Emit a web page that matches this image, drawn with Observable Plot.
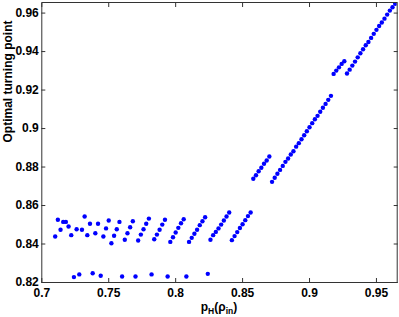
<!DOCTYPE html>
<html>
<head>
<meta charset="utf-8">
<script src="https://cdn.jsdelivr.net/npm/d3@7"></script>
<script src="https://cdn.jsdelivr.net/npm/@observablehq/plot@0.6"></script>
<style>
  html, body { margin: 0; padding: 0; background: #fff; }
</style>
</head>
<body>
<div id="chart"></div>
<script>
const xTicks = [0.7, 0.75, 0.8, 0.85, 0.9, 0.95];
const xTickLabels = ["0.7", "0.75", "0.8", "0.85", "0.9", "0.95"];
const yTicks = [0.82, 0.84, 0.86, 0.88, 0.9, 0.92, 0.94, 0.96];
const yTickLabels = ["0.82", "0.84", "0.86", "0.88", "0.9", "0.92", "0.94", "0.96"];
const yAxisLabel = "Optimal turning point";

const pValues = [
  0.710, 0.712, 0.714, 0.716, 0.718, 0.720, 0.722, 0.724, 0.726, 0.728,
  0.730, 0.732, 0.734, 0.736, 0.738, 0.740, 0.742, 0.744, 0.746, 0.748,
  0.750, 0.752, 0.754, 0.756, 0.758, 0.760, 0.762, 0.764, 0.766, 0.768,
  0.770, 0.772, 0.774, 0.776, 0.778, 0.780, 0.782, 0.784, 0.786, 0.788,
  0.790, 0.792, 0.794, 0.796, 0.798, 0.800, 0.802, 0.804, 0.806, 0.808,
  0.810, 0.812, 0.814, 0.816, 0.818, 0.820, 0.822, 0.824, 0.826, 0.828,
  0.830, 0.832, 0.834, 0.836, 0.838, 0.840, 0.842, 0.844, 0.846, 0.848,
  0.850, 0.852, 0.854, 0.856, 0.858, 0.860, 0.862, 0.864, 0.866, 0.868,
  0.870, 0.872, 0.874, 0.876, 0.878, 0.880, 0.882, 0.884, 0.886, 0.888,
  0.890, 0.892, 0.894, 0.896, 0.898, 0.900, 0.902, 0.904, 0.906, 0.908,
  0.910, 0.912, 0.914, 0.916, 0.918, 0.920, 0.922, 0.924, 0.926, 0.928,
  0.930, 0.932, 0.934, 0.936, 0.938, 0.940, 0.942, 0.944, 0.946, 0.948,
  0.950, 0.952, 0.954, 0.956, 0.958, 0.960, 0.962, 0.964
];

const turningPoints = [
  0.8439, 0.8526, 0.8474, 0.8515, 0.8515, 0.8491, 0.8446, 0.8228, 0.8477, 0.8242,
  0.8474, 0.8543, 0.8446, 0.8505, 0.8248, 0.8456, 0.8505, 0.8235, 0.8439, 0.8481,
  0.8522, 0.8404, 0.8443, 0.8477, 0.8515, 0.8231, 0.8422, 0.8456, 0.8487, 0.8518,
  0.8231, 0.8418, 0.8449, 0.8477, 0.8505, 0.8532, 0.8242, 0.8425, 0.8449, 0.8474,
  0.8501, 0.8526, 0.8231, 0.8411, 0.8435, 0.8460, 0.8484, 0.8508, 0.8529, 0.8231,
  0.8411, 0.8432, 0.8453, 0.8474, 0.8498, 0.8518, 0.8539, 0.8245, 0.8422, 0.8446,
  0.8463, 0.8481, 0.8501, 0.8522, 0.8543, 0.8564, 0.8420, 0.8441, 0.8462, 0.8483,
  0.8503, 0.8524, 0.8545, 0.8564, 0.8739, 0.8757, 0.8778, 0.8796, 0.8817, 0.8834,
  0.8855, 0.8723, 0.8744, 0.8765, 0.8785, 0.8806, 0.8827, 0.8844, 0.8865, 0.8882,
  0.8906, 0.8924, 0.8944, 0.8965, 0.8986, 0.9007, 0.9028, 0.9048, 0.9066, 0.9087,
  0.9108, 0.9128, 0.9149, 0.9170, 0.9284, 0.9301, 0.9318, 0.9336, 0.9350, 0.9286,
  0.9306, 0.9327, 0.9348, 0.9370, 0.9391, 0.9412, 0.9433, 0.9450, 0.9471, 0.9492,
  0.9513, 0.9533, 0.9551, 0.9571, 0.9592, 0.9613, 0.9630, 0.9648
];

const data = pValues.map((p, i) => ({p, t: turningPoints[i]}));

const ML = 41.3, MR = 2.3, MT = 2, MB = 35;
const W = 399, H = 317;

const chart = Plot.plot({
  width: W,
  height: H,
  marginLeft: ML,
  marginRight: MR,
  marginTop: MT,
  marginBottom: MB,
  style: {fontFamily: "'Liberation Sans', Arial, Helvetica, sans-serif", fontSize: "12px", fontWeight: "bold", background: "#fff", color: "#000"},
  x: {domain: [0.7, 0.9655], label: null},
  y: {domain: [0.82, 0.9655], label: null},
  marks: [
    Plot.dot(data, {x: "p", y: "t", r: 2.2, fill: "#0000ff", stroke: "none", clip: true}),
    Plot.axisX({anchor: "bottom", ticks: xTicks, tickSize: -4, fill: "none", stroke: "#333", label: null}),
    Plot.axisX({anchor: "top", ticks: xTicks, tickSize: -4, fill: "none", stroke: "#333", label: null}),
    Plot.axisY({anchor: "left", ticks: yTicks, tickSize: -4, fill: "none", stroke: "#333", label: null}),
    Plot.axisY({anchor: "right", ticks: yTicks, tickSize: -4, fill: "none", stroke: "#333", label: null}),
    Plot.axisX({anchor: "bottom", ticks: xTicks, tickSize: 0, tickPadding: 6, tickFormat: (d, i) => xTickLabels[i], fill: "#000", fontSize: 12, fontWeight: "bold", label: null}),
    Plot.axisY({anchor: "left", ticks: yTicks, tickSize: 0, tickPadding: 3, tickFormat: (d, i) => yTickLabels[i], fill: "#000", fontSize: 12, fontWeight: "bold", label: null}),
    Plot.frame({stroke: "#333", strokeWidth: 1}),
    Plot.text([yAxisLabel], {frameAnchor: "left", rotate: -90, dx: -33.5, fontSize: 12, fontWeight: "bold", fill: "#000"})
  ]
});

document.getElementById("chart").appendChild(chart);

// x-axis label with subscripts: p_H(ρ_in)
const cx = (ML + (W - MR)) / 2;
const svg = d3.select(chart);
const lab = svg.append("text")
  .attr("x", cx)
  .attr("y", 311)
  .attr("text-anchor", "middle")
  .attr("font-size", 12)
  .attr("font-weight", "bold")
  .attr("fill", "#000");
lab.append("tspan").text("p");
lab.append("tspan").attr("font-size", 8.5).attr("dy", 3).text("H");
lab.append("tspan").attr("dy", -3).text("(ρ");
lab.append("tspan").attr("font-size", 8.5).attr("dy", 3).text("in");
lab.append("tspan").attr("dy", -3).text(")");
</script>
</body>
</html>
